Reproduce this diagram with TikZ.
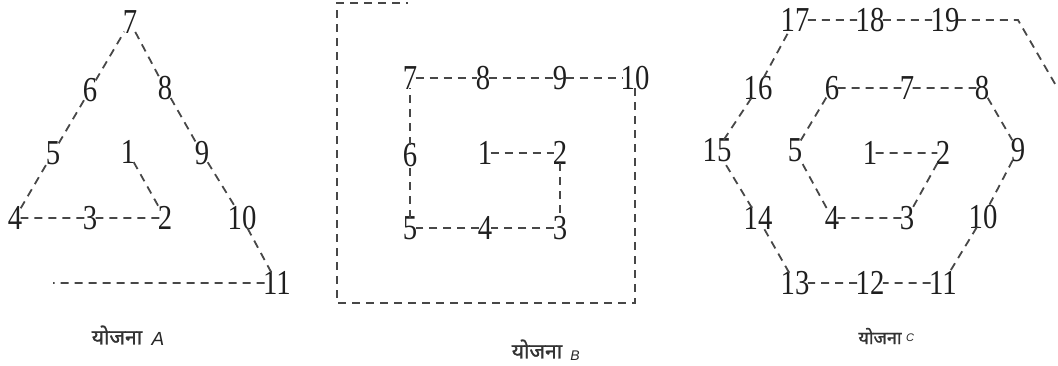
\documentclass[tikz,border=0pt]{standalone}
\usepackage{fontspec}
\setmainfont{Liberation Serif}
\newfontfamily\numfont[FakeStretch=0.82]{Liberation Serif}
\newfontfamily\devfont[Script=Devanagari,FakeBold=1.2]{Noto Sans}
\newfontfamily\labfont{Liberation Sans}
\begin{document}
\begin{tikzpicture}[x=1pt,y=-1pt,
  num/.style={font=\numfont\fontsize{35}{35}\selectfont, inner sep=0pt, outer sep=-1.5pt, text=black!88},
  dl/.style={draw=black!72, line width=1.8pt, dash pattern=on 8pt off 6pt},
  dev/.style={font=\devfont\fontsize{#1}{#1}\selectfont, inner sep=0pt, text=black!80},
  lat/.style={font=\labfont\itshape\fontsize{#1}{#1}\selectfont, inner sep=0pt, text=black!85}]
\useasboundingbox (0,0) rectangle (1058,365);
% ---- Plan A
\node[num] (a7) at (130,22) {7};
\node[num] (a6) at (90,90) {6};
\node[num] (a8) at (165,88) {8};
\node[num] (a5) at (53,153) {5};
\node[num] (a1) at (128,152) {1};
\node[num] (a9) at (202,153) {9};
\node[num] (a4) at (15,218) {4};
\node[num] (a3) at (90,218) {3};
\node[num] (a2) at (165,218) {2};
\node[num] (a10) at (242,218) {10};
\node[num] (a11) at (277,283) {11};
\coordinate (aend) at (53,283);
\draw[dl] (a1) -- (a2) -- (a3) -- (a4) -- (a5) -- (a6) -- (a7) -- (a8) -- (a9) -- (a10) -- (a11) -- (aend);
\node[dev=21] (laA) at (117,335) {योजना};
\node[lat=19] (lA) at (158,339) {A};
% ---- Plan B
\node[num] (b7) at (410,78) {7};
\node[num] (b8) at (483,78) {8};
\node[num] (b9) at (560,78) {9};
\node[num] (b10) at (635,78) {10};
\node[num] (b6) at (410,155) {6};
\node[num] (b1) at (485,153) {1};
\node[num] (b2) at (560,153) {2};
\node[num] (b5) at (410,228) {5};
\node[num] (b4) at (485,228) {4};
\node[num] (b3) at (560,228) {3};
\coordinate (bc1) at (635,303);
\coordinate (bc2) at (337,303);
\coordinate (bc3) at (337,3);
\coordinate (bc4) at (408,3);
\draw[dl] (b1) -- (b2) -- (b3) -- (b4) -- (b5) -- (b6) -- (b7) -- (b8) -- (b9) -- (b10) -- (bc1) -- (bc2) -- (bc3) -- (bc4);
\node[dev=21] (laB) at (537,349) {योजना};
\node[lat=14] (lB) at (575,356) {B};
% ---- Plan C
\node[num] (c17) at (795,20) {17};
\node[num] (c18) at (870,20) {18};
\node[num] (c19) at (945,20) {19};
\coordinate (cc1) at (1018,20);
\coordinate (cc2) at (1058,89);
\node[num] (c16) at (758,88) {16};
\node[num] (c6) at (832,88) {6};
\node[num] (c7) at (907,88) {7};
\node[num] (c8) at (982,88) {8};
\node[num] (c15) at (717,150) {15};
\node[num] (c5) at (795,150) {5};
\node[num] (c1) at (870,153) {1};
\node[num] (c2) at (943,153) {2};
\node[num] (c9) at (1018,150) {9};
\node[num] (c14) at (758,218) {14};
\node[num] (c4) at (832,218) {4};
\node[num] (c3) at (907,218) {3};
\node[num] (c10) at (983,217) {10};
\node[num] (c13) at (795,283) {13};
\node[num] (c12) at (870,283) {12};
\node[num] (c11) at (943,283) {11};
\draw[dl] (c1) -- (c2) -- (c3) -- (c4) -- (c5) -- (c6) -- (c7) -- (c8) -- (c9) -- (c10) -- (c11) -- (c12) -- (c13) -- (c14) -- (c15) -- (c16) -- (c17) -- (c18) -- (c19) -- (cc1) -- (cc2);
\node[dev=18] (laC) at (880,336) {योजना};
\node[lat=11] (lC) at (910,338) {C};
\end{tikzpicture}
\end{document}
